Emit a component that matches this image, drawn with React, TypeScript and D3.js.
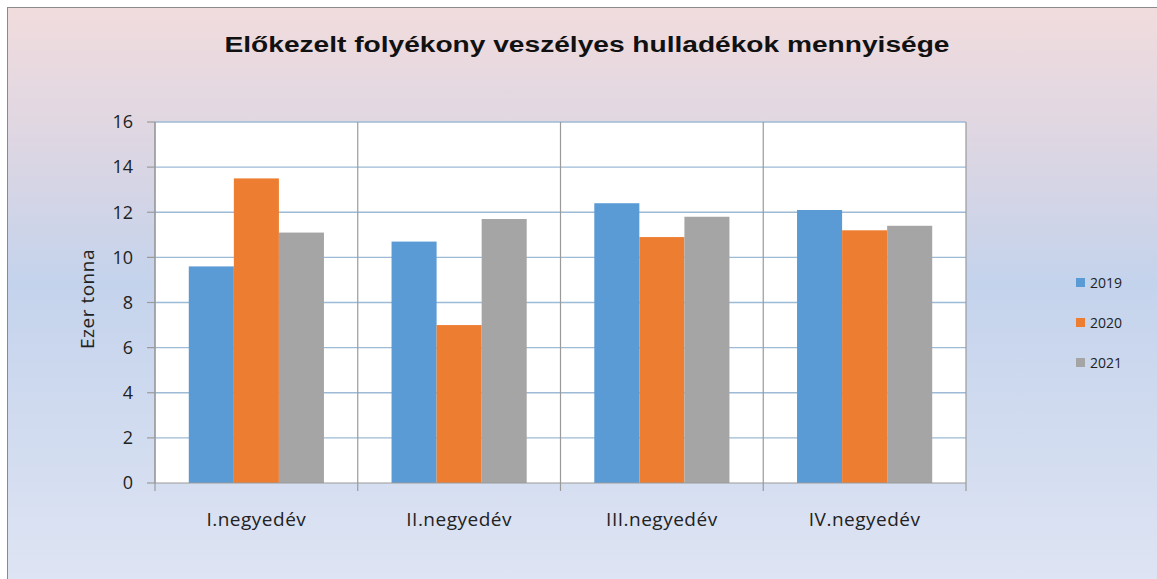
import { useEffect } from 'react'
import * as d3 from 'd3'

// * Chart data
const quarters = ['I.negyedév', 'II.negyedév', 'III.negyedév', 'IV.negyedév']
const years = ['2019', '2020', '2021']
const values2019 = [9.6, 10.7, 12.4, 12.1]
const values2020 = [13.5, 7.0, 10.9, 11.2]
const values2021 = [11.1, 11.7, 11.8, 11.4]
const yTicks = [0, 2, 4, 6, 8, 10, 12, 14, 16]
const colors = ['#5B9BD5', '#ED7D31', '#A5A5A5']

const W = 1157
const H = 579

export default function App() {
  useEffect(() => {
    document.body.style.margin = '0'
  }, [])

  const margin = { top: 122, right: 191, bottom: 96, left: 155 }
  const series = [values2019, values2020, values2021]

  const x0 = d3.scaleBand().domain(quarters).range([margin.left, W - margin.right]).padding(0)
  const x1 = d3.scaleBand().domain(years).range([0, x0.bandwidth()]).paddingInner(0).paddingOuter(0.75)
  const y = d3.scaleLinear().domain([0, 16]).range([H - margin.bottom, margin.top])

  const left = margin.left
  const right = W - margin.right
  const bottom = y(0)
  const top = y(16)
  const labelFont = '"Open Sans", Lato, sans-serif'

  return (
    <svg width={W} height={H} style={{ display: 'block' }}>
      <defs>
        <linearGradient id="bg" x1="0" y1="0" x2="0" y2="1">
          <stop offset="0" stopColor="#f1dcdd" />
          <stop offset="0.25" stopColor="#dcd6e3" />
          <stop offset="0.48" stopColor="#c4d3ec" />
          <stop offset="1" stopColor="#dee4f3" />
        </linearGradient>
      </defs>
      <rect x={0} y={0} width={W} height={H} fill="#ffffff" />
      <rect x={7.5} y={7.5} width={W - 7} height={H - 7} fill="url(#bg)" stroke="#8a8a8a" strokeWidth={1} />

      {/* title */}
      <text transform="translate(587,52) scale(1.25,1)" textAnchor="middle" fontFamily='"Liberation Sans", Arial, sans-serif' fontWeight="bold" fontSize={22.5} fill="#111">
        Előkezelt folyékony  veszélyes hulladékok mennyisége
      </text>

      {/* plot area */}
      <rect x={left} y={top} width={right - left} height={bottom - top} fill="#ffffff" />

      {/* horizontal gridlines */}
      {yTicks.filter((t) => t > 0).map((t) => (
        <line key={t} x1={left} x2={right} y1={y(t)} y2={y(t)} stroke="#9dbad6" strokeWidth={1.4} />
      ))}

      {/* category separators */}
      {quarters.map((q) => (
        <line key={q} x1={x0(q)!} x2={x0(q)!} y1={top} y2={bottom + 8} stroke="#9a9a9a" strokeWidth={1.2} />
      ))}
      <line x1={right} x2={right} y1={top} y2={bottom + 8} stroke="#9a9a9a" strokeWidth={1.2} />

      {/* bars */}
      {quarters.map((q, i) => (
        <g key={q} transform={`translate(${x0(q)},0)`}>
          {years.map((yr, j) => (
            <rect key={yr} x={x1(yr)} y={y(series[j][i])} width={x1.bandwidth()} height={bottom - y(series[j][i])} fill={colors[j]} />
          ))}
        </g>
      ))}

      {/* axes */}
      <line x1={left} x2={right} y1={bottom} y2={bottom} stroke="#9a9a9a" strokeWidth={1.2} />
      <line x1={left} x2={left} y1={top} y2={bottom} stroke="#9a9a9a" strokeWidth={1.2} />
      {yTicks.map((t) => (
        <g key={t}>
          <line x1={left - 8} x2={left} y1={y(t)} y2={y(t)} stroke="#9a9a9a" strokeWidth={1.2} />
          <text x={133} y={y(t)} dy="0.35em" textAnchor="end" fontFamily={labelFont} fontSize={18} fill="#222">
            {t}
          </text>
        </g>
      ))}
      {quarters.map((q) => (
        <text key={q} x={x0(q)! + x0.bandwidth() / 2} y={526} textAnchor="middle" fontFamily={labelFont} fontSize={19} letterSpacing={0.5} fill="#222">
          {q}
        </text>
      ))}
      <text transform={`translate(94,${299}) rotate(-90)`} textAnchor="middle" fontFamily={labelFont} fontSize={19} letterSpacing={0.5} fill="#222">
        Ezer tonna
      </text>

      {/* legend */}
      {years.map((yr, j) => (
        <g key={yr} transform={`translate(1076,${283 + j * 40})`}>
          <rect x={0} y={-5} width={9} height={9} fill={colors[j]} />
          <text x={14} y={0} dy="0.35em" fontFamily={labelFont} fontSize={14} fill="#222">
            {yr}
          </text>
        </g>
      ))}
    </svg>
  )
}
